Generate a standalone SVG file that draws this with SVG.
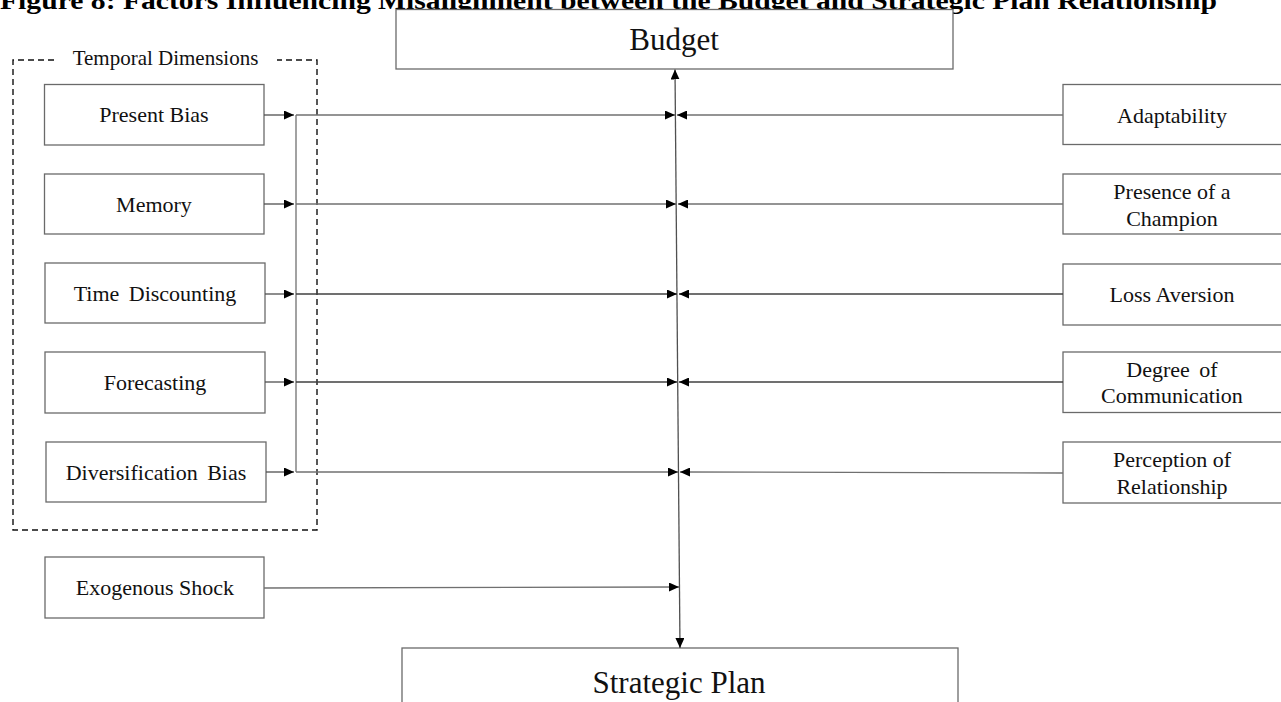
<svg xmlns="http://www.w3.org/2000/svg" width="1281" height="702" viewBox="0 0 1281 702">
<defs>
<marker id="ah" markerWidth="10" markerHeight="9" refX="10" refY="4.5" orient="auto-start-reverse" markerUnits="userSpaceOnUse">
<path d="M0,0 L10,4.5 L0,9 Z" fill="#000"/>
</marker>
</defs>
<style>
.box{fill:#fff;stroke:#6a6a6a;stroke-width:1.3}
.t{font-family:"Liberation Serif","Times New Roman",serif;font-size:22px;fill:#111;text-anchor:middle}
.big{font-family:"Liberation Serif","Times New Roman",serif;font-size:31px;fill:#111;text-anchor:middle}
.ln{stroke:#707070;stroke-width:1.3;fill:none}
.dash{stroke:#111;stroke-width:1.4;fill:none;stroke-dasharray:6 4}
</style>
<rect width="1281" height="702" fill="#fff"/>
<text x="0" y="8.5" font-family="'Liberation Serif','Times New Roman',serif" font-weight="bold" font-size="26" fill="#000" textLength="1217" lengthAdjust="spacingAndGlyphs">Figure 8: Factors Influencing Misalignment between the Budget and Strategic Plan Relationship</text>

<g id="temporal-dimensions">
<path class="dash" d="M54,60 L13,60 L13,530 L317,530 L317,60 L277,60"/>
<text x="165.5" y="65" class="t" style="font-size:21px">Temporal Dimensions</text>
</g>

<g id="budget"><rect class="box" x="396" y="9.5" width="557" height="59.5"/><text class="big" x="674" y="50">Budget</text></g>
<g id="strategic-plan"><rect class="box" x="402" y="648" width="556" height="70"/><text class="big" x="679" y="693">Strategic Plan</text></g>

<g id="present-bias"><rect class="box" x="44.5" y="84.5" width="219.5" height="60.5"/><text class="t" x="154" y="122">Present Bias</text></g>
<g id="memory"><rect class="box" x="44.5" y="174" width="219.5" height="60"/><text class="t" x="154" y="211.5">Memory</text></g>
<g id="time-discounting"><rect class="box" x="45" y="263" width="220" height="60"/><text class="t" x="155" y="300.5" style="word-spacing:4px">Time Discounting</text></g>
<g id="forecasting"><rect class="box" x="45" y="352" width="220" height="61"/><text class="t" x="155" y="390">Forecasting</text></g>
<g id="diversification-bias"><rect class="box" x="46" y="442" width="220" height="60"/><text class="t" x="156" y="480" style="word-spacing:4px">Diversification Bias</text></g>
<g id="exogenous-shock"><rect class="box" x="45" y="557" width="219" height="61"/><text class="t" x="155" y="595">Exogenous Shock</text></g>

<g id="adaptability"><rect class="box" x="1063" y="84.5" width="230" height="60"/><text class="t" x="1172" y="122.5">Adaptability</text></g>
<g id="presence-of-a-champion"><rect class="box" x="1063" y="174" width="230" height="60"/><text class="t" x="1172" y="199">Presence of a</text><text class="t" x="1172" y="225.5">Champion</text></g>
<g id="loss-aversion"><rect class="box" x="1063" y="264" width="230" height="61"/><text class="t" x="1172" y="301.5">Loss Aversion</text></g>
<g id="degree-of-communication"><rect class="box" x="1063" y="352" width="230" height="60.5"/><text class="t" x="1172" y="377" style="word-spacing:4px">Degree of</text><text class="t" x="1172" y="403">Communication</text></g>
<g id="perception-of-relationship"><rect class="box" x="1063" y="442" width="230" height="61"/><text class="t" x="1172" y="467">Perception of</text><text class="t" x="1172" y="494">Relationship</text></g>

<g id="connectors">
<line class="ln" x1="675" y1="69.5" x2="680" y2="648" marker-start="url(#ah)" marker-end="url(#ah)" style="stroke:#505050"/>
<line class="ln" x1="264" y1="115" x2="294" y2="115" marker-end="url(#ah)" style="stroke:#505050"/>
<line class="ln" x1="264" y1="204" x2="294" y2="204" marker-end="url(#ah)" style="stroke:#505050"/>
<line class="ln" x1="265" y1="294" x2="294" y2="294" marker-end="url(#ah)" style="stroke:#505050"/>
<line class="ln" x1="265" y1="382" x2="294" y2="382" marker-end="url(#ah)" style="stroke:#505050"/>
<line class="ln" x1="266" y1="472" x2="294" y2="472" marker-end="url(#ah)" style="stroke:#505050"/>
<line class="ln" x1="296" y1="115" x2="296" y2="472"/>
<line class="ln" x1="296" y1="115" x2="675" y2="115" marker-end="url(#ah)"/>
<line class="ln" x1="296" y1="204" x2="676" y2="204" marker-end="url(#ah)"/>
<line class="ln" x1="296" y1="294" x2="677" y2="294" marker-end="url(#ah)" style="stroke:#404040"/>
<line class="ln" x1="296" y1="382" x2="677" y2="382" marker-end="url(#ah)" style="stroke:#404040"/>
<line class="ln" x1="296" y1="472" x2="678" y2="472" marker-end="url(#ah)"/>
<line class="ln" x1="264" y1="588" x2="679" y2="587" marker-end="url(#ah)"/>
<line class="ln" x1="1063" y1="115" x2="677" y2="115" marker-end="url(#ah)"/>
<line class="ln" x1="1063" y1="204" x2="678" y2="204" marker-end="url(#ah)"/>
<line class="ln" x1="1063" y1="294" x2="679" y2="294" marker-end="url(#ah)" style="stroke:#404040"/>
<line class="ln" x1="1063" y1="382" x2="679" y2="382" marker-end="url(#ah)" style="stroke:#404040"/>
<line class="ln" x1="1063" y1="473" x2="680" y2="472" marker-end="url(#ah)"/>
</g>
</svg>
